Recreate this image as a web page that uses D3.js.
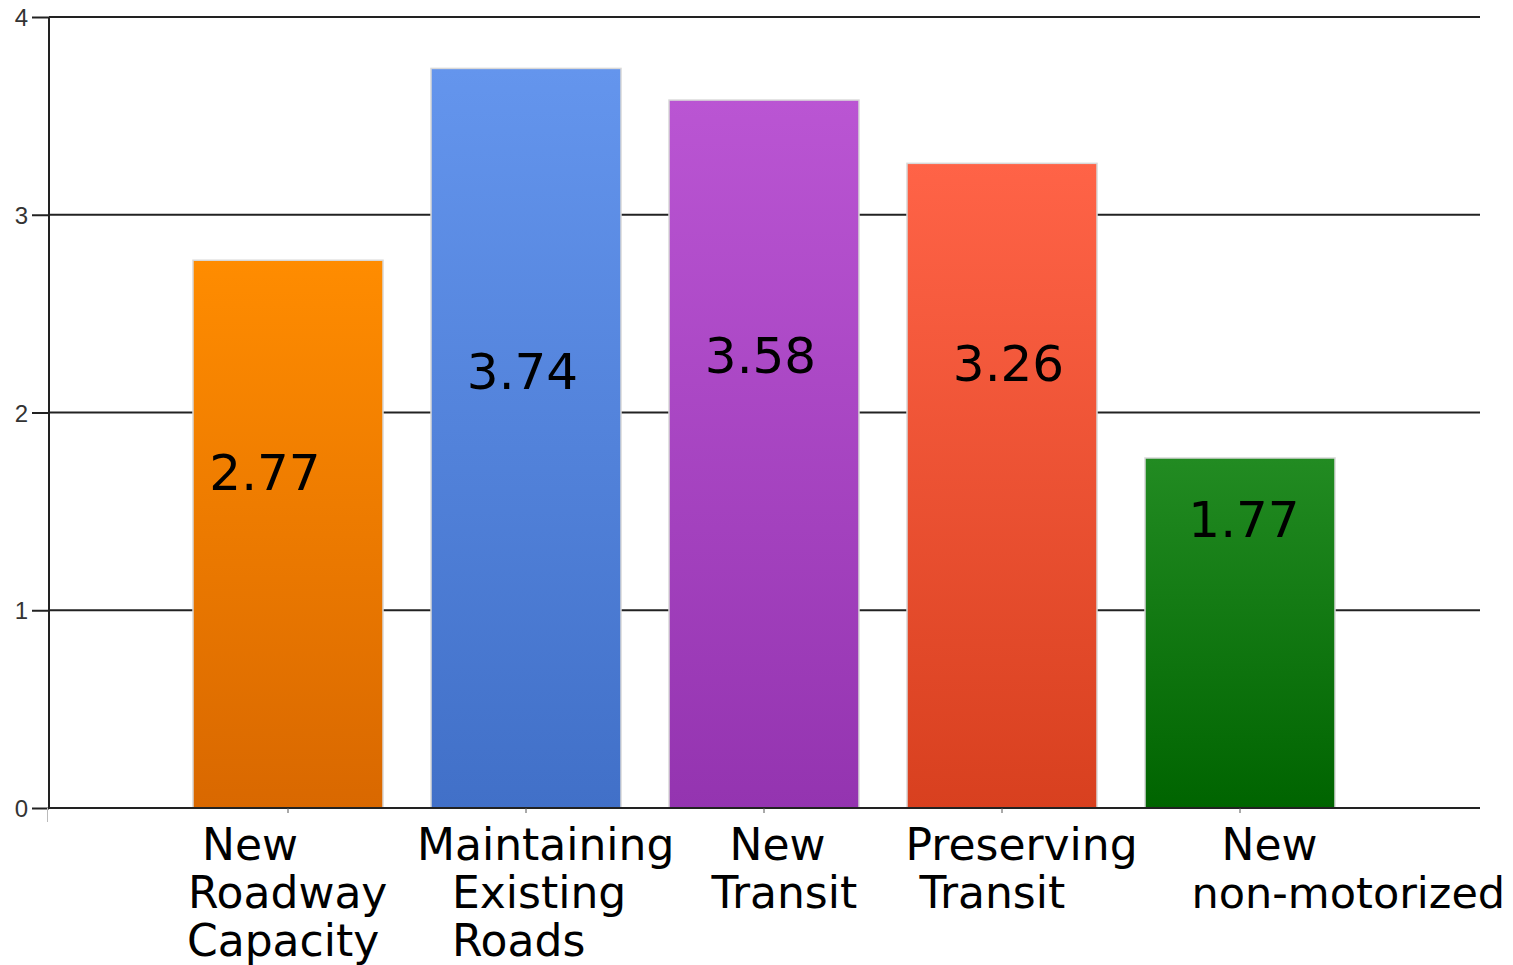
<!DOCTYPE html>
<html><head><meta charset="utf-8">
<script src="https://cdn.jsdelivr.net/npm/d3@7"></script>
<style>html,body{margin:0;padding:0;background:#fff;overflow:hidden}</style>
</head><body>
<svg id="chart" width="1513" height="965"></svg>
<script>
// ---- data ----
const categories = ["New Roadway Capacity","Maintaining Existing Roads","New Transit","Preserving Transit","New non-motorized"];
const categoryLines = [["New","Roadway","Capacity"],["Maintaining","Existing","Roads"],["New","Transit"],["Preserving","Transit"],["New","non-motorized"]];
const values = [2.77, 3.74, 3.58, 3.26, 1.77];
const valueLabels = ["2.77","3.74","3.58","3.26","1.77"];
const yTicks = [0,1,2,3,4];
const colorsTop = ["#FF8C00","#6495ED","#BA55D3","#FF6347","#228B22"];
const colorsBottom = ["#D96800","#4170C8","#9434B0","#D8401F","#006400"];

// ---- layout (not data) ----
const labelAnchorY = [1.608, 2.119, 2.2, 2.159, 1.37];   // value-label baselines in data units
const labelDX = [-23, -3.5, -3.5, 6.5, 4];
const lineDX = [[-85,-99,-100],[-108,-73,-73],[-33.5,-51.5],[-95.5,-81.5],[-17.5,-47.5]];

const svg = d3.select("#chart");
const mL = 49, mR = 1480, mT = 17, mB = 808;
const x = d3.scaleLinear().domain([0, 6]).range([mL + 1, 1478]);
const y = d3.scaleLinear().domain([0, 4]).range([mB, mT]);
const barW = 190;

const defs = svg.append("defs");
categories.forEach((c,i)=>{
  const g = defs.append("linearGradient").attr("id","g"+i).attr("x1",0).attr("y1",0).attr("x2",0).attr("y2",1);
  g.append("stop").attr("offset","0%").attr("stop-color",colorsTop[i]);
  g.append("stop").attr("offset","100%").attr("stop-color",colorsBottom[i]);
});

// gridlines + y ticks
const yAxis = d3.axisLeft(y).tickValues(yTicks).tickSize(17).tickFormat(d3.format("d"));
const ga = svg.append("g").attr("transform",`translate(${mL},0)`).call(yAxis);
ga.select(".domain").remove();
ga.selectAll(".tick line").attr("stroke","#222").attr("stroke-width",2);
ga.selectAll(".tick text").attr("x",-21).attr("dy","0.36em").attr("fill","#333")
  .style("font-family","'Liberation Sans', Arial, sans-serif").style("font-size","24px");
svg.append("g").selectAll("line").data(yTicks).join("line")
  .attr("x1",mL).attr("x2",mR).attr("y1",d=>y(d)).attr("y2",d=>y(d))
  .attr("stroke","#222").attr("stroke-width",2);
// y axis line
svg.append("line").attr("x1",mL).attr("x2",mL).attr("y1",mT).attr("y2",mB)
  .attr("stroke","#222").attr("stroke-width",2);
svg.append("line").attr("x1",mL-1.5).attr("x2",mL-1.5).attr("y1",mB).attr("y2",822)
  .attr("stroke","#bbb").attr("stroke-width",1);

// bars
svg.append("g").selectAll("rect").data(values).join("rect")
  .attr("x",(d,i)=>x(i+1)-barW/2).attr("width",barW)
  .attr("y",d=>y(d)).attr("height",d=>y(0)-y(d))
  .attr("fill",(d,i)=>`url(#g${i})`).attr("stroke","#d8d8d8").attr("stroke-width",1.5);

// bottom axis line & ticks
svg.append("line").attr("x1",mL).attr("x2",mR).attr("y1",mB).attr("y2",mB)
  .attr("stroke","#222").attr("stroke-width",2);
svg.append("g").selectAll("line").data(values).join("line")
  .attr("x1",(d,i)=>x(i+1)).attr("x2",(d,i)=>x(i+1)).attr("y1",mB).attr("y2",mB+5)
  .attr("stroke","#555").attr("stroke-width",1);

// value labels
svg.append("g").selectAll("text").data(valueLabels).join("text")
  .attr("x",(d,i)=>x(i+1)+labelDX[i]).attr("y",(d,i)=>y(labelAnchorY[i]))
  .attr("text-anchor","middle").attr("fill","#000")
  .style("font-family","'DejaVu Sans', sans-serif").style("font-size","50px")
  .text(d=>d);

// category labels
const cg = svg.append("g");
categoryLines.forEach((lines,i)=>{
  lines.forEach((ln,j)=>{
    cg.append("text").attr("x",x(i+1)-1+lineDX[i][j]).attr("y",860+j*48)
      .attr("fill","#000").style("font-family","'DejaVu Sans', sans-serif")
      .style("font-size", ln.length > 11 ? "43px" : "44px")
      .text(ln);
  });
});
</script>
</body></html>
